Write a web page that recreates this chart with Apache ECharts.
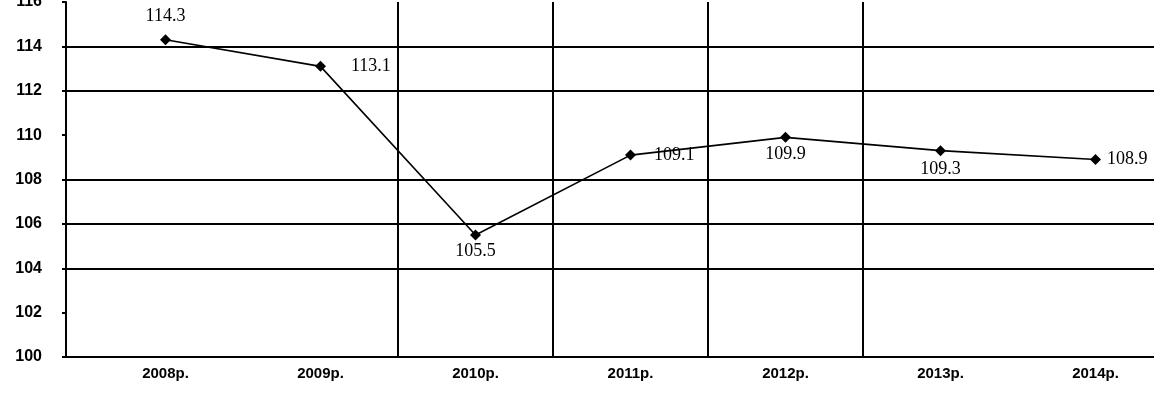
<!DOCTYPE html>
<html>
<head>
<meta charset="utf-8">
<script src="https://cdn.jsdelivr.net/npm/echarts@6/dist/echarts.min.js"></script>
<style>
    html, body { margin: 0; padding: 0; background: #fff; }
    #chart { width: 1154px; height: 408px; }
</style>
</head>
<body>
<div id="chart"></div>
<script>
var years = ['2008р.', '2009р.', '2010р.', '2011р.', '2012р.', '2013р.', '2014р.']
var values = [114.3, 113.1, 105.5, 109.1, 109.9, 109.3, 108.9]
var yMin = 100
var yMax = 116
var yStep = 2

// где стоит подпись у каждой точки
var labelPlace = ['top', 'right', 'bottom', 'right', 'bottom', 'bottom', 'right']
var labelGap = [9, 25, 2, 18, 2, 4, 6]

// горизонтальные линии: 100,102,...,116 (в оригинале часть пропала)
var hColors = ['#000', 'transparent', '#000', '#000', '#000', 'transparent', '#000', '#000', 'transparent']
// вертикальные линии по границам категорий
var vColors = ['transparent', 'transparent', '#000', '#000', '#000', '#000', 'transparent', 'transparent']

var chart = echarts.init(document.getElementById('chart'))

var points = values.map(function (v, i) {
    return {
        value: v,
        label: { position: labelPlace[i], distance: labelGap[i] }
    }
})

var option = {
    animation: false,
    backgroundColor: '#fff',
    grid: [
        { left: 88, width: 1085, top: 2, height: 355, outerBoundsMode: 'none', containLabel: false },
        { left: 66, width: 22, top: 2, height: 355, outerBoundsMode: 'none', containLabel: false }
    ],
    xAxis: [
        {
            type: 'category',
            gridIndex: 0,
            data: years,
            boundaryGap: true,
            axisLine: { lineStyle: { color: '#000', width: 2 } },
            axisTick: { show: false },
            axisLabel: {
                color: '#000',
                fontFamily: 'Liberation Sans',
                fontSize: 15,
                fontWeight: 'bold',
                margin: 9
            },
            splitLine: { show: true, lineStyle: { color: vColors, width: 2 } }
        },
        {
            type: 'category',
            gridIndex: 1,
            data: [''],
            axisLine: { show: false },
            axisTick: { show: false },
            axisLabel: { show: false },
            splitLine: { show: false }
        }
    ],
    yAxis: [
        {
            type: 'value',
            gridIndex: 0,
            min: yMin,
            max: yMax,
            interval: yStep,
            axisLine: { show: false },
            axisTick: { show: false },
            axisLabel: { show: false },
            splitLine: { show: true, lineStyle: { color: hColors, width: 2 } }
        },
        {
            type: 'value',
            gridIndex: 1,
            min: yMin,
            max: yMax,
            interval: yStep,
            axisLine: { show: true, onZero: false, lineStyle: { color: '#000', width: 2 } },
            axisTick: { show: true, length: 4, lineStyle: { color: '#000', width: 2 } },
            axisLabel: {
                color: '#000',
                fontFamily: 'Liberation Sans',
                fontSize: 16,
                fontWeight: 'bold',
                margin: 24
            },
            splitLine: { show: true, lineStyle: { color: hColors, width: 2 } }
        }
    ],
    series: [
        {
            type: 'line',
            xAxisIndex: 0,
            yAxisIndex: 0,
            data: points,
            symbol: 'diamond',
            symbolSize: 11,
            itemStyle: { color: '#000' },
            lineStyle: { color: '#000', width: 1.6 },
            label: {
                show: true,
                color: '#000',
                fontFamily: 'Liberation Serif',
                fontSize: 18,
                formatter: function (p) { return p.value.toFixed(1) }
            }
        }
    ]
}
chart.setOption(option)
</script>
</body>
</html>
